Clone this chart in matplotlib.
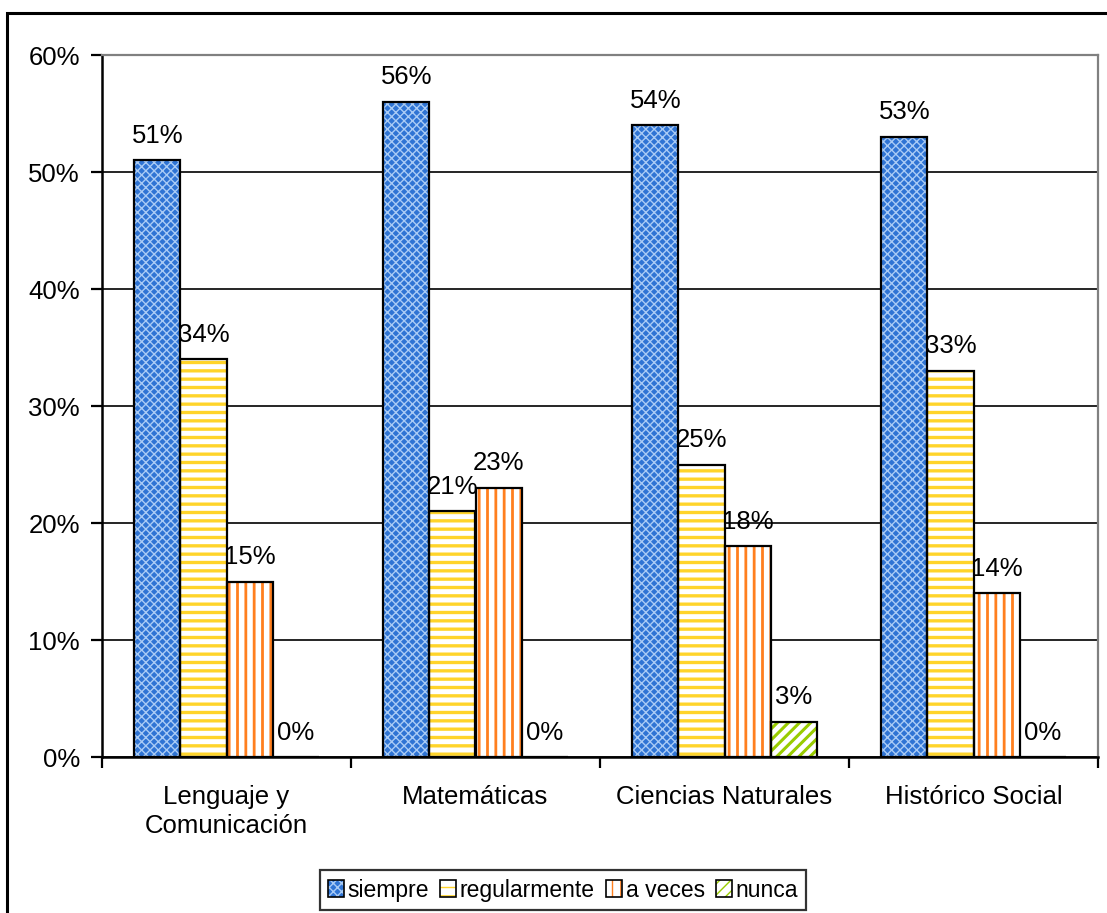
import matplotlib
matplotlib.use("Agg")
import matplotlib.pyplot as plt
import numpy as np
from matplotlib.patches import Patch, Rectangle
from matplotlib.legend_handler import HandlerTuple
from matplotlib.ticker import PercentFormatter, FixedLocator

plt.rcParams['font.family'] = ['Liberation Sans', 'DejaVu Sans']

categories = ["Lenguaje y\nComunicación", "Matemáticas", "Ciencias Naturales", "Histórico Social"]
series_names = ["siempre", "regularmente", "a veces", "nunca"]
siempre = [51, 56, 54, 53]
regularmente = [34, 21, 25, 33]
a_veces = [15, 23, 18, 14]
nunca = [0, 0, 3, 0]
series_values = [siempre, regularmente, a_veces, nunca]
y_ticks = [0, 10, 20, 30, 40, 50, 60]

# fill colour, hatch colour, hatch pattern, hatch line width per series
styles = [
    ("#2F74D4", "#A9CBF5", "xxxx", 1.0),
    ("white", "#FFD42A", "--", 2.4),
    ("white", "#FF7F1E", "||", 2.0),
    ("white", "#99CC00", "///", 2.2),
]

fs = 18.5
fig = plt.figure(figsize=(11.07, 9.13), dpi=100)
ax = fig.add_axes([102/1107, 1 - 757/913, 996/1107, (757 - 55)/913])

x = np.arange(len(categories))
width = 0.185
offsets = (np.arange(len(series_names)) - 1.5) * width

handles = []
for i, (name, vals) in enumerate(zip(series_names, series_values)):
    face, hcol, hatch, hlw = styles[i]
    bars = ax.bar(x + offsets[i], vals, width, color=face, edgecolor=hcol,
                  hatch=hatch, linewidth=0, zorder=3)
    for b in bars:
        if hasattr(b, "set_hatch_linewidth"):
            b.set_hatch_linewidth(hlw)
    ax.bar(x + offsets[i], vals, width, fill=False, edgecolor="black",
           linewidth=1.6, zorder=4)
    for xi, v in zip(x + offsets[i], vals):
        ax.annotate(f"{v}%", (xi, v), xytext=(0, 9), textcoords="offset points",
                    ha="center", va="bottom", fontsize=fs, zorder=5)
    hp = Patch(facecolor=face, edgecolor=hcol, hatch=hatch, linewidth=0)
    if hasattr(hp, "set_hatch_linewidth"):
        hp.set_hatch_linewidth(hlw)
    outline = Patch(fill=False, edgecolor="black", linewidth=1.2)
    handles.append((hp, outline))

ax.set_xlim(-0.5, len(categories) - 0.5)
ax.set_ylim(0, 60)
ax.set_yticks(y_ticks)
ax.yaxis.set_major_formatter(PercentFormatter(decimals=0))
ax.yaxis.grid(True, color="black", linewidth=1.2, zorder=0)
ax.set_axisbelow(True)

ax.set_xticks(x)
ax.set_xticklabels(categories, fontsize=fs, linespacing=1.3)
ax.xaxis.set_minor_locator(FixedLocator(np.arange(-0.5, len(categories), 1.0)))
ax.tick_params(axis="x", which="major", length=0, pad=20)
ax.tick_params(axis="x", which="minor", length=8, width=1.6, direction="out")
ax.tick_params(axis="y", length=8, width=1.6, direction="out", labelsize=fs, pad=8)

for side in ("left", "bottom"):
    ax.spines[side].set_color("black")
    ax.spines[side].set_linewidth(1.8)
for side in ("top", "right"):
    ax.spines[side].set_color("#808080")
    ax.spines[side].set_linewidth(1.6)

leg = fig.legend(handles, series_names, handler_map={tuple: HandlerTuple(ndivide=1, pad=0)},
                 loc="center", bbox_to_anchor=(563/1107, 1 - 890/913), ncol=4,
                 fontsize=16.5, frameon=True, fancybox=False, handlelength=0.7,
                 handleheight=0.7, handletextpad=0.15, columnspacing=0.5,
                 borderpad=0.35, borderaxespad=0)
leg.get_frame().set_edgecolor("black")
leg.get_frame().set_linewidth(1.6)

fig.add_artist(Rectangle((7/1107, -0.1), 1.2, 1 - 13/913 + 0.1, transform=fig.transFigure,
                         fill=False, edgecolor="black", linewidth=2.2))

fig.savefig("out.png", dpi=100)
